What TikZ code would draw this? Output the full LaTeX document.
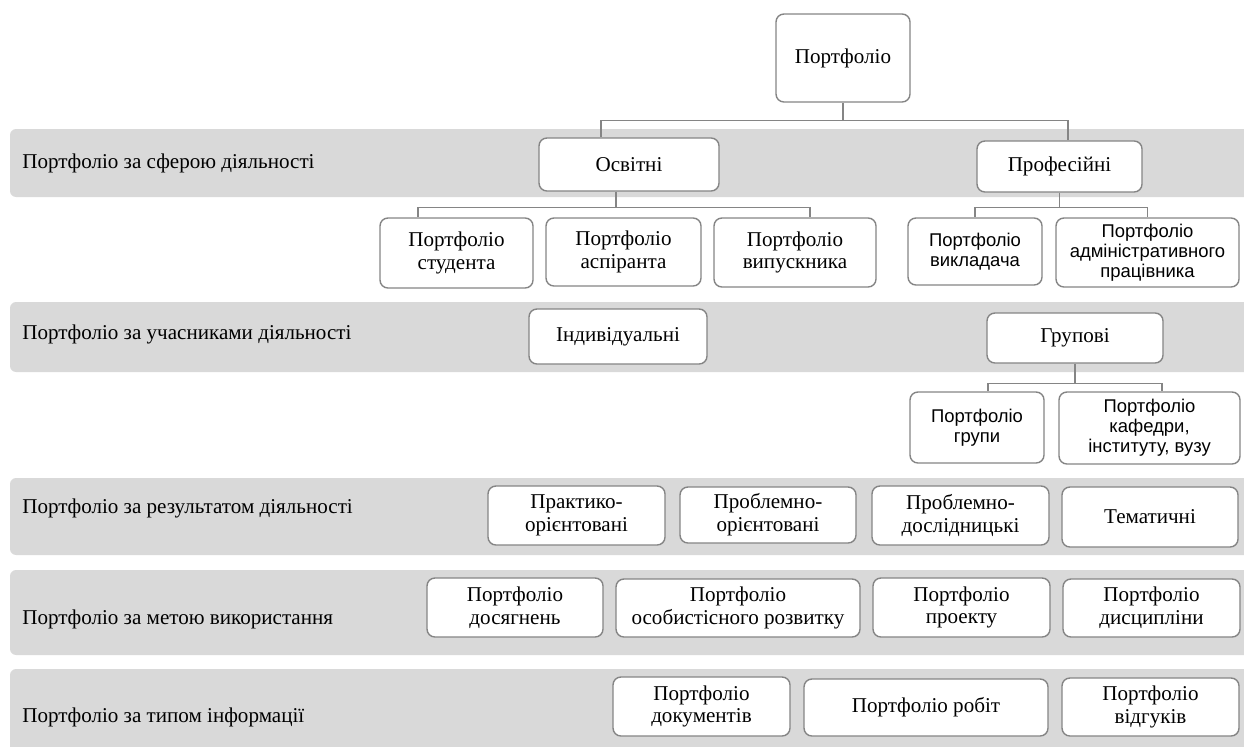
\documentclass[tikz,border=0pt]{standalone}
\usepackage{fontspec}
\setmainfont{Liberation Serif}
\newfontfamily\arialfont{Liberation Sans}
\definecolor{bandgray}{HTML}{D9D9D9}
\definecolor{linegray}{HTML}{858585}

\begin{document}
\begin{tikzpicture}[x=0.02cm, y=-0.02cm,
  band/.style={fill=bandgray, rounded corners=3.5pt},
  wh/.style 2 args={minimum width=#1*0.02cm, minimum height=#2*0.02cm},
  box/.style={draw=linegray, line width=0.8pt, fill=white, rounded corners=4.5pt,
    align=center, inner sep=1pt, font=\fontsize{12}{13}\selectfont},
  sbox/.style={box, font=\arialfont\fontsize{10.5}{11.5}\selectfont},
  lbl/.style={anchor=base west, inner sep=0pt, font=\fontsize{12}{13}\selectfont},
  link/.style={draw=linegray, line width=0.9pt}]
  \useasboundingbox (0,0) rectangle (1244,747);

  % gray bands
  \fill[band] (10,129) rectangle (1270,197);
  \fill[band] (10,302) rectangle (1270,372);
  \fill[band] (10,478) rectangle (1270,555);
  \fill[band] (10,570) rectangle (1270,655);
  \fill[band] (10,669) rectangle (1270,770);

  \node[lbl] (l1) at (22,168) {Портфоліо за сферою діяльності};
  \node[lbl] (l2) at (22,339) {Портфоліо за учасниками діяльності};
  \node[lbl] (l3) at (22,513) {Портфоліо за результатом діяльності};
  \node[lbl] (l4) at (22,624) {Портфоліо за метою використання};
  \node[lbl] (l5) at (22,722) {Портфоліо за типом інформації};

  % tree part
  \node[box, wh={134}{88}] (top) at (843,58) {Портфоліо};
  \node[box, wh={180}{53}] (osv) at (629,164.5) {Освітні};
  \node[box, wh={165}{51}] (prof) at (1059.5,166.5) {Професійні};

  \node[box, wh={153}{70}] (stud) at (456.5,253) {Портфоліо\\студента};
  \node[box, wh={155}{68}] (asp) at (623.5,252) {Портфоліо\\аспіранта};
  \node[box, wh={162}{69}] (vyp) at (795,252.5) {Портфоліо\\випускника};
  \node[sbox, wh={134}{67}] (vykl) at (975,251.5) {Портфоліо\\викладача};
  \node[sbox, wh={183}{69}] (adm) at (1147.5,252.5) {Портфоліо\\адміністративного\\працівника};

  \node[box, wh={178}{55}] (ind) at (618,336.5) {Індивідуальні};
  \node[box, wh={176}{50}] (grup) at (1075,338) {Групові};
  \node[sbox, wh={134}{71}] (grp) at (977,427.5) {Портфоліо\\групи};
  \node[sbox, wh={181}{72}] (kaf) at (1149.5,428) {Портфоліо\\кафедри,\\інституту, вузу};

  \draw[link] (top.south) -- ++(0,18) -| ([xshift=-0.56cm]osv.north);
  \draw[link] (top.south) ++(0,18) -| ([xshift=0.17cm]prof.north);
  \draw[link] ([xshift=-0.26cm]osv.south) -- ++(0,16) -| ([xshift=-0.77cm]stud.north);
  \draw[link] ([xshift=-0.26cm]osv.south) ++(0,16) -| ([xshift=0.3cm]vyp.north);
  \draw[link] (prof.south) -- ++(0,15) -| (vykl.north);
  \draw[link] (prof.south) ++(0,15) -| (adm.north);
  \draw[link] (grup.south) -- ++(0,20) -| ([xshift=0.22cm]grp.north);
  \draw[link] (grup.south) ++(0,20) -| ([xshift=0.25cm]kaf.north);

  % rows without links
  \node[box, wh={177}{59}] (prak) at (576.5,515.5) {Практико-\\орієнтовані};
  \node[box, wh={176}{56}] (pror) at (768,515) {Проблемно-\\орієнтовані};
  \node[box, wh={177}{59}] (prdos) at (960.5,515.5) {Проблемно-\\дослідницькі};
  \node[box, wh={176}{60}] (tem) at (1150,517) {Тематичні};

  \node[box, wh={176}{59}] (dos) at (515,607.5) {Портфоліо\\досягнень};
  \node[box, wh={244}{58}] (osob) at (738,608) {Портфоліо\\особистісного розвитку};
  \node[box, wh={177}{59}] (proj) at (961.5,607.5) {Портфоліо\\проекту};
  \node[box, wh={177}{58}] (disc) at (1151.5,608) {Портфоліо\\дисципліни};

  \node[box, wh={177}{59}] (doc) at (701.5,706.5) {Портфоліо\\документів};
  \node[box, wh={244}{57}] (rob) at (926,707.5) {Портфоліо робіт};
  \node[box, wh={177}{58}] (vidg) at (1150.5,707) {Портфоліо\\відгуків};
\end{tikzpicture}
\end{document}
